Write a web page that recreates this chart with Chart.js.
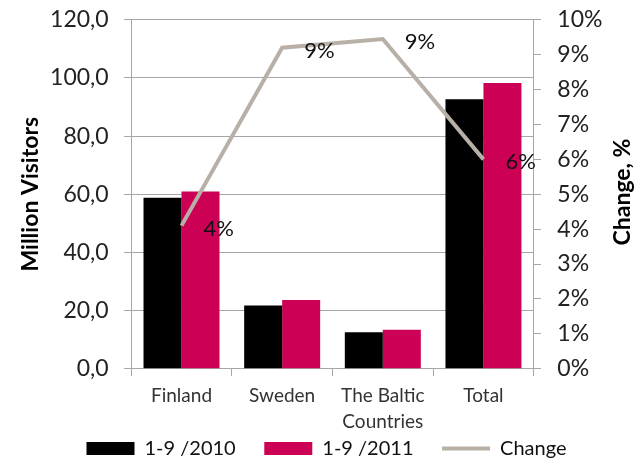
<!DOCTYPE html>
<html>
<head>
<meta charset="utf-8">
<script src="https://cdn.jsdelivr.net/npm/chart.js@4.4.0/dist/chart.umd.min.js"></script>
<style>
  body { margin: 0; background: #fff; }
</style>
</head>
<body>
<canvas id="visitors" width="639" height="460"></canvas>
<script>
let regions = ["Finland", "Sweden", ["The Baltic", "Countries"], "Total"];
let visitors2010 = [58.8, 21.7, 12.5, 92.7];
let visitors2011 = [60.9, 23.6, 13.4, 98.3];
let changePct = [4.1, 9.2, 9.45, 6.0];

const FONT = "Lato";
const gridGray = "#a6a6a6";

// % labels next to the line points + right axis title (reads bottom to top)
const extraText = {
   id: "extraText",
   afterDatasetsDraw(chart) {
      const meta = chart.getDatasetMeta(2);
      const c = chart.ctx;
      c.save();
      c.font = "22px " + FONT;
      c.fillStyle = "#111";
      c.textBaseline = "middle";
      c.textAlign = "left";
      meta.data.forEach(function(pt, i){
         c.fillText(Math.round(changePct[i]) + "%", pt.x + 22, pt.y + 3);
      });
      c.restore();
   },
   afterDraw(chart) {
      const c = chart.ctx;
      c.save();
      c.translate(623, 192);
      c.rotate(-Math.PI / 2);
      c.font = "bold 23px " + FONT;
      c.fillStyle = "#000";
      c.textAlign = "center";
      c.textBaseline = "middle";
      c.fillText("Change, %", 0, 0);
      c.restore();
   }
};

const ctx = document.getElementById('visitors').getContext('2d');
const visitorsChart = new Chart(ctx, {
    type: 'bar',
    data: {
        labels: regions,
        datasets: [
            {
                label: '1-9 /2010',
                data: visitors2010,
                backgroundColor: "#000000",
                pointStyle: 'rect',
                yAxisID: 'y',
                order: 1
            },
            {
                label: '1-9 /2011',
                data: visitors2011,
                backgroundColor: "#cc0055",
                pointStyle: 'rect',
                yAxisID: 'y',
                order: 1
            },
            {
                type: 'line',
                label: 'Change',
                data: changePct,
                borderColor: "#b8b0a7",
                backgroundColor: "#b8b0a7",
                borderWidth: 4,
                tension: 0,
                pointRadius: 0,
                pointStyle: 'line',
                yAxisID: 'y1',
                order: 0
            }
        ]
    },
    options: {
        responsive: false,
        animation: false,
        devicePixelRatio: 1,
        layout: { padding: { left: 15, right: 1, top: 8, bottom: -8.5 } },
        datasets: {
            bar: { categoryPercentage: 0.755, barPercentage: 1 }
        },
        scales: {
            x: {
                // long tick so the labels sit lower, only the first 7px are drawn
                grid: { drawOnChartArea: false, offset: true, tickLength: 14, tickBorderDash: [7, 60], color: gridGray },
                border: { color: gridGray },
                ticks: {
                    color: "#333",
                    font: { family: FONT, size: 19, lineHeight: 1.39 },
                    padding: 0,
                    maxRotation: 0
                }
            },
            y: {
                position: 'left',
                min: 0,
                max: 120,
                ticks: {
                    stepSize: 20,
                    color: "#222",
                    font: { family: FONT, size: 23 },
                    padding: 5.5,
                    callback: function(v){ return v.toFixed(1).replace('.', ','); }
                },
                // drawn tick is only the 7px next to the axis
                grid: { color: gridGray, tickLength: 17, tickBorderDash: [0, 10, 7, 60] },
                border: { color: gridGray },
                title: {
                    display: true,
                    text: 'Million Visitors',
                    color: "#000",
                    padding: { top: 2, bottom: 0 },
                    font: { family: FONT, size: 23, weight: 'bold' }
                }
            },
            y1: {
                position: 'right',
                min: 0,
                max: 10,
                ticks: {
                    stepSize: 1,
                    color: "#222",
                    font: { family: FONT, size: 23 },
                    padding: 6,
                    callback: function(v){ return v + '%'; }
                },
                grid: { drawOnChartArea: false, color: gridGray, tickLength: 17.5, tickBorderDash: [7, 60] },
                border: { color: gridGray },
                // space only, the text itself is drawn by extraText
                title: {
                    display: true,
                    text: 'Change, %',
                    color: "rgba(0,0,0,0)",
                    font: { family: FONT, size: 18, weight: 'bold' }
                }
            }
        },
        plugins: {
            legend: {
                position: 'bottom',
                labels: {
                    usePointStyle: true,
                    pointStyleWidth: 48,
                    boxHeight: 13,
                    padding: 3,
                    color: "#111",
                    font: { family: FONT, size: 20 },
                    generateLabels: function(chart){
                        let items = Chart.defaults.plugins.legend.labels.generateLabels(chart);
                        items.sort(function(a, b){ return a.datasetIndex - b.datasetIndex; });
                        items.forEach(function(it, i){
                            if (i < items.length - 1) it.text += "     ";
                        });
                        return items;
                    }
                }
            },
            tooltip: { enabled: false }
        }
    },
    plugins: [extraText]
});
</script>
</body>
</html>
